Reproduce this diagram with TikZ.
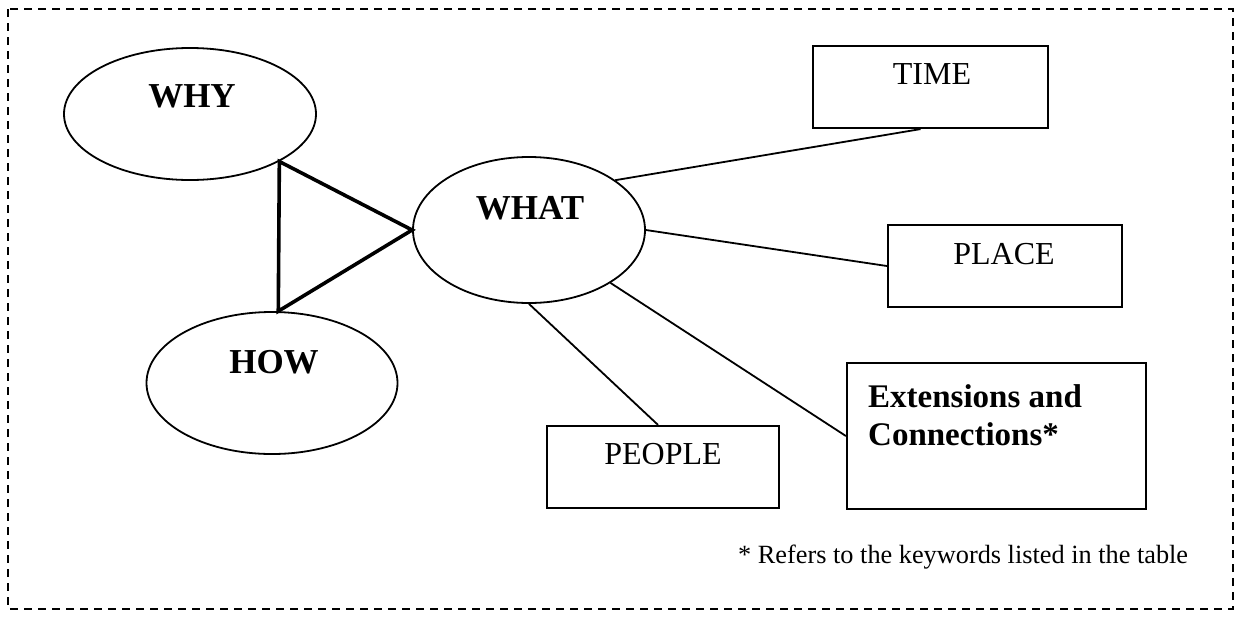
\documentclass[tikz,border=0pt]{standalone}
\usepackage{fontspec}
\setmainfont{Liberation Serif}
\usetikzlibrary{shapes.geometric}
\begin{document}
\begin{tikzpicture}[x=1pt,y=-1pt,
  oval/.style={ellipse, draw, line width=1.8pt, inner sep=0pt},
  box/.style={rectangle, draw, line width=2.2pt, inner sep=0pt},
  bigtxt/.style={font=\fontsize{35}{40}\selectfont\bfseries, inner sep=0pt},
  regtxt/.style={font=\fontsize{32}{36}\selectfont, inner sep=0pt},
  conn/.style={line width=1.8pt},
  tri/.style={line width=3.6pt, line join=miter},
  frame/.style={line width=2pt, dash pattern=on 8pt off 6pt}]
\useasboundingbox (0,0) rectangle (1239,619);
\draw[frame] (8,9) rectangle (1233,609);
% ellipses
\node[oval, minimum width=252pt, minimum height=132pt] (why) at (190,114) {};
\node[bigtxt] (whyt) at (192,96) {WHY};
\node[oval, minimum width=232pt, minimum height=146pt] (what) at (529,230) {};
\node[bigtxt] (whatt) at (530,208) {WHAT};
\node[oval, minimum width=251pt, minimum height=142pt] (how) at (272,383) {};
\node[bigtxt] (howt) at (274,362) {HOW};
% boxes
\node[box, minimum width=235pt, minimum height=82pt] (time) at (930.5,87) {};
\node[regtxt] (timet) at (932,74) {TIME};
\node[box, minimum width=234pt, minimum height=82pt] (place) at (1005,266) {};
\node[regtxt] (placet) at (1004,254) {PLACE};
\node[box, minimum width=232pt, minimum height=82pt] (people) at (663,467) {};
\node[regtxt] (peoplet) at (663,454) {PEOPLE};
\node[box, minimum width=299pt, minimum height=146pt] (ext) at (996.5,436) {};
\node[font=\fontsize{33}{38}\selectfont\bfseries, inner sep=0pt, anchor=base west, align=left] (extt) at (868,445) {Extensions and\\Connections*};
\node[font=\fontsize{26.3}{30}\selectfont, inner sep=0pt, anchor=base west] (note) at (738,563) {* Refers to the keywords listed in the table};
% triangle
\draw[tri] (why.-28.6) -- (what.west) -- (how.85) -- cycle;
% connectors
\draw[conn] (what.30) -- ([xshift=-10pt]time.south);
\draw[conn] (what.east) -- (place.west);
\draw[conn] (what.south) -- ([xshift=-5pt]people.north);
\draw[conn] (what.-33) -- (ext.west);
\end{tikzpicture}
\end{document}
